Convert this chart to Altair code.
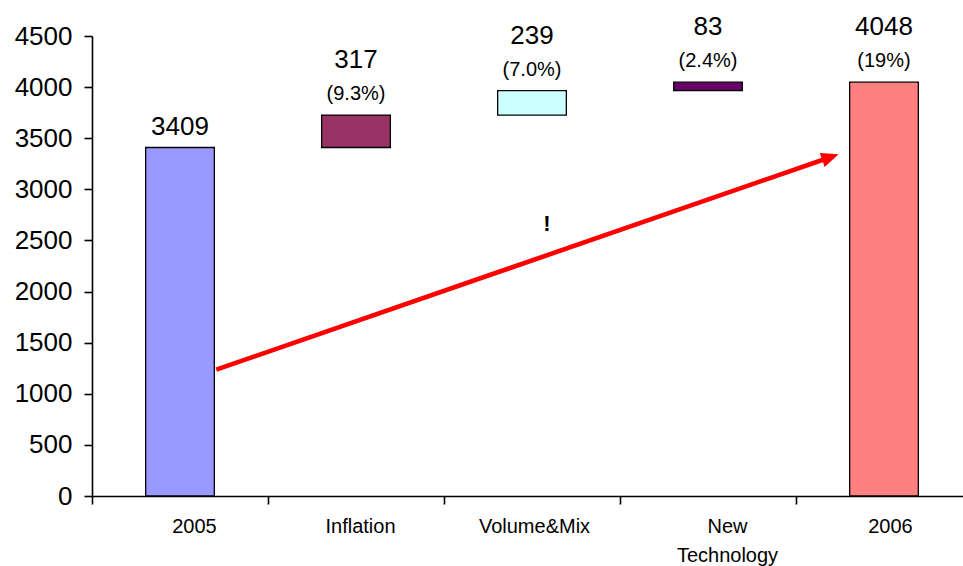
import altair as alt
import pandas as pd

# Cost bridge 2005 -> 2006
categories = ["2005", "Inflation", "Volume&Mix", "New Technology", "2006"]
amounts = [3409, 317, 239, 83, 4048]
kinds = ["total", "step", "step", "step", "total"]
shares = ["", "(9.3%)", "(7.0%)", "(2.4%)", "(19%)"]
colors = ["#9999FF", "#993366", "#CCFFFF", "#660066", "#FF8080"]
y_ticks = [0, 500, 1000, 1500, 2000, 2500, 3000, 3500, 4000, 4500]

# Trend arrow (x in category slots, 0..5) and the note mark
arrow_x = [0.706, 4.242]
arrow_y = [1236, 3342]
note_x = [2.585]
note_y = [2589]
note_text = ["!"]

FONT = "Liberation Sans"
PLOT_W, PLOT_H = 871, 460
SLOT_RANGE = [0, 880]

# floating bars: totals start at zero, steps start where the previous bar ended
rows = []
level = 0
for cat, amt, kind, share in zip(categories, amounts, kinds, shares):
    if kind == "total":
        lo, hi = 0, amt
    else:
        lo, hi = level, level + amt
    level = hi
    rows.append({"category": cat, "base": lo, "top": hi,
                 "label": str(amt), "share": share})
bars_df = pd.DataFrame(rows)

band_scale = alt.Scale(domain=categories, range=SLOT_RANGE,
                       paddingInner=0, paddingOuter=0)
x_band = alt.X("category:N", sort=categories, scale=band_scale, title=None)
y_scale = alt.Scale(domain=[0, 4500], nice=False, zero=True)
y_axis = alt.Axis(values=y_ticks, format="d", grid=False)

base = alt.Chart(bars_df)

bars = base.mark_bar(
    stroke="black", strokeWidth=1.3, width=alt.RelativeBandSize(0.39)
).encode(
    x=alt.X(
        "category:N",
        sort=categories,
        scale=band_scale,
        title=None,
        axis=alt.Axis(
            tickBand="extent",
            labelAngle=0,
            labelExpr="split(datum.label, ' ')",
            labelLineHeight=29,
            labelOffset={
                "condition": [
                    {"test": "datum.value == '2005'", "value": 14},
                    {"test": "datum.value == 'New Technology'", "value": 19},
                    {"test": "datum.value == '2006'", "value": 6},
                    {"test": "datum.value == 'Inflation'", "value": 4},
                ],
                "value": 2,
            },
        ),
    ),
    y=alt.Y("base:Q", scale=y_scale, title=None, axis=y_axis),
    y2="top:Q",
    color=alt.Color("category:N", scale=alt.Scale(domain=categories, range=colors),
                    legend=None),
)

y_top = alt.Y("top:Q", scale=y_scale, title=None, axis=y_axis)

total_labels = base.transform_filter("datum.share == ''").mark_text(
    font=FONT, fontSize=26, baseline="alphabetic", dy=-13, color="black"
).encode(x=x_band, y=y_top, text="label:N")

step_labels = base.transform_filter("datum.share != ''").mark_text(
    font=FONT, fontSize=26, baseline="alphabetic", dy=-47, color="black"
).encode(x=x_band, y=y_top, text="label:N")

share_labels = base.transform_filter("datum.share != ''").mark_text(
    font=FONT, fontSize=20, baseline="alphabetic", dy=-15, color="black"
).encode(x=x_band, y=y_top, text="share:N")

bridge = alt.layer(bars, total_labels, step_labels, share_labels)

# arrow: shaft stops a little short of the tip so the head covers its end
tip_x, tip_y = arrow_x[1], arrow_y[1]
shaft_end_x = arrow_x[0] + 0.982 * (tip_x - arrow_x[0])
shaft_end_y = arrow_y[0] + 0.982 * (tip_y - arrow_y[0])
shaft_df = pd.DataFrame({"x": [arrow_x[0]], "y": [arrow_y[0]],
                         "x2": [shaft_end_x], "y2": [shaft_end_y]})
head_df = pd.DataFrame({"x": [tip_x], "y": [tip_y]})
note_df = pd.DataFrame({"x": note_x, "y": note_y, "t": note_text})

x_slot = alt.Scale(domain=[0, 5], range=SLOT_RANGE, nice=False, zero=False)
y_note = alt.Y("y:Q", scale=y_scale, title=None, axis=y_axis)

shaft = alt.Chart(shaft_df).mark_rule(color="#FF0000", strokeWidth=4.6).encode(
    x=alt.X("x:Q", scale=x_slot, axis=None),
    y=y_note,
    x2="x2:Q",
    y2="y2:Q",
)

head = alt.Chart(head_df).mark_point(
    shape="M0,0L-2,-0.85L-2,0.85Z", size=300, angle=340.9,
    filled=True, color="#FF0000", opacity=1, strokeWidth=0,
).encode(
    x=alt.X("x:Q", scale=x_slot, axis=None),
    y=y_note,
)

note = alt.Chart(note_df).mark_text(
    font=FONT, fontSize=22, fontWeight="bold", baseline="alphabetic", color="black"
).encode(
    x=alt.X("x:Q", scale=x_slot, axis=None),
    y=y_note,
    text="t:N",
)

annotations = alt.layer(shaft, head, note)

chart = alt.layer(bridge, annotations).resolve_scale(
    x="independent"
).properties(
    width=PLOT_W,
    height=PLOT_H,
    padding={"left": 92, "top": 36, "right": 0, "bottom": 70},
    autosize=alt.AutoSizeParams(type="none"),
    background="white",
).configure_view(
    stroke=None
).configure_axis(
    domainColor="black",
    domainWidth=1.6,
    tickColor="black",
    tickWidth=1.6,
    tickSize=8,
    labelColor="black",
    labelFont=FONT,
    grid=False,
).configure_axisX(
    labelFontSize=20,
    labelPadding=12,
).configure_axisY(
    labelFontSize=26,
    labelPadding=12,
)

chart.save("out.html", embed_options={"renderer": "svg", "actions": False})
